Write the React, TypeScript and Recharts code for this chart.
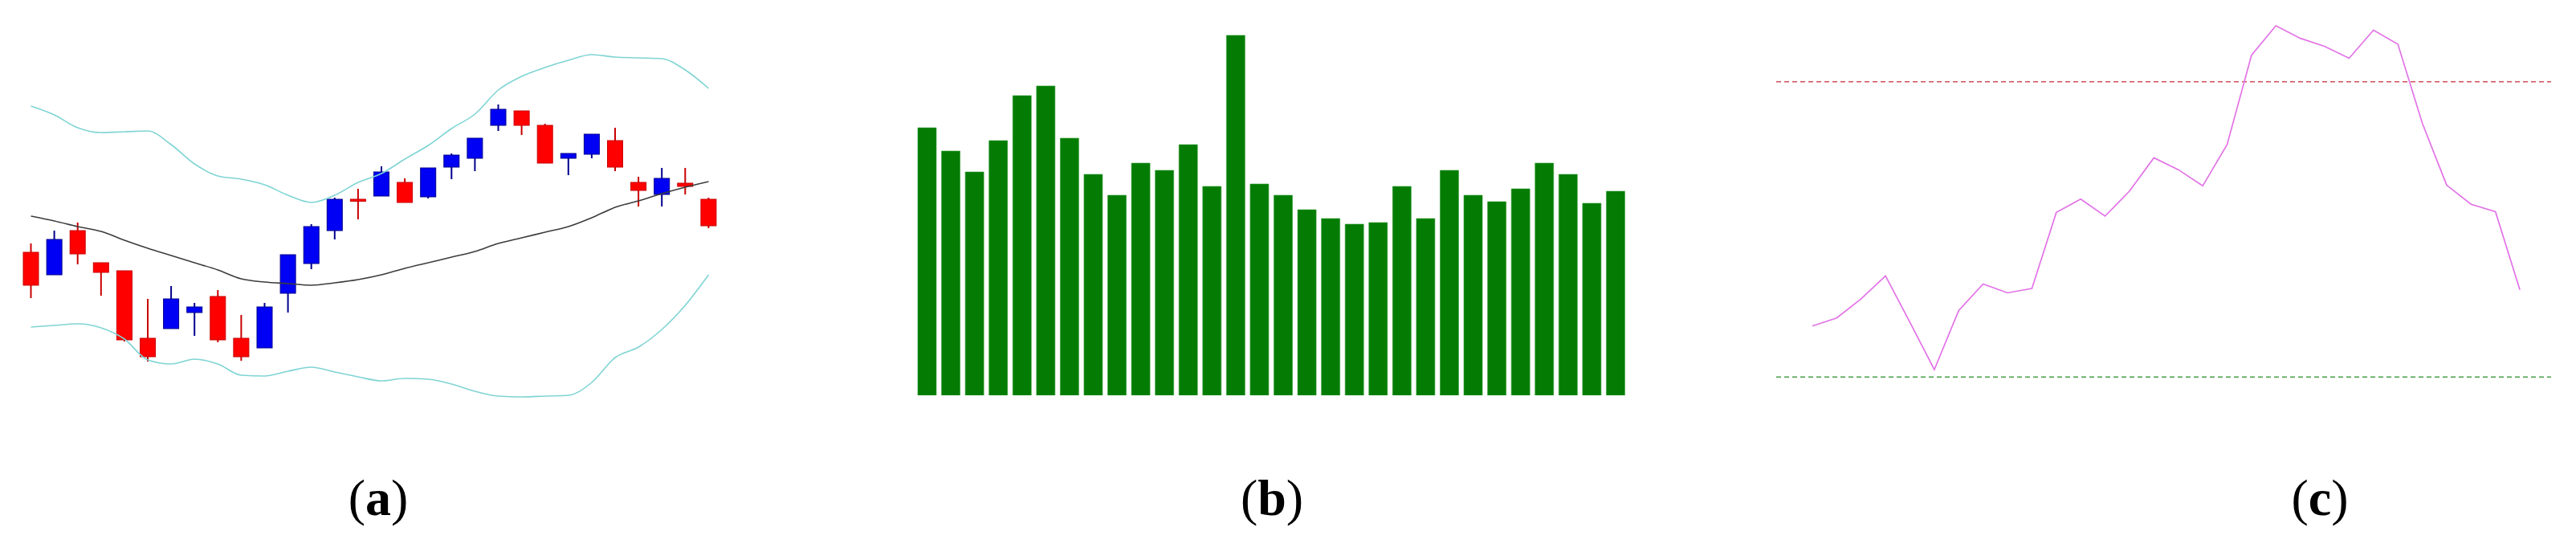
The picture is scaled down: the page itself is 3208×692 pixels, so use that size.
import {
  Bar,
  BarChart,
  ComposedChart,
  Line,
  LineChart,
  ReferenceLine,
  XAxis,
  YAxis,
} from 'recharts';

// (a) candles: open / close / high / low, plus Bollinger bands
const OPEN = [24.6, 21.8, 27.3, 23.3, 22.3, 13.9, 15.1, 17.1, 19.1, 13.9, 12.7, 19.5, 23.2, 27.3, 31.2, 31.6, 33.3, 31.5, 35.2, 36.3, 40.4, 42.2, 40.4, 36.3, 36.8, 38.5, 33.3, 31.8, 33.2, 31.2];
const CLOSE = [20.5, 26.2, 24.4, 22.1, 13.7, 11.6, 18.8, 17.8, 13.7, 11.6, 17.8, 24.3, 27.8, 31.2, 31.0, 34.6, 30.8, 35.1, 36.7, 38.8, 42.4, 40.4, 35.7, 36.9, 39.3, 35.2, 32.3, 33.8, 32.8, 27.9];
const HIGH = [25.7, 27.3, 28.3, 23.3, 22.3, 18.8, 20.4, 18.3, 19.9, 16.8, 18.3, 24.3, 28.1, 31.4, 32.5, 35.3, 33.8, 35.1, 36.9, 38.8, 43.0, 42.2, 40.6, 36.9, 39.3, 40.1, 34.0, 35.1, 35.1, 31.4];
const LOW = [18.9, 21.8, 23.1, 19.2, 13.5, 11.0, 15.1, 14.2, 13.4, 11.1, 12.7, 17.1, 22.5, 26.2, 28.7, 31.6, 30.8, 31.3, 33.7, 34.7, 39.7, 39.2, 35.7, 34.2, 36.3, 34.7, 30.3, 30.3, 31.8, 27.6];
const MID = [29.1, 28.5, 27.8, 27.2, 26.1, 25.1, 24.2, 23.3, 22.4, 21.3, 20.9, 20.7, 20.5, 20.8, 21.2, 21.8, 22.6, 23.3, 24.0, 24.7, 25.7, 26.4, 27.1, 27.8, 28.9, 30.2, 31.0, 31.9, 32.7, 33.4];
const UPPER = [42.8, 41.7, 40.1, 39.5, 39.6, 39.7, 38.0, 35.6, 34.1, 33.7, 33.0, 31.7, 30.8, 31.7, 33.3, 34.4, 36.2, 37.9, 40.0, 41.8, 44.8, 46.5, 47.6, 48.5, 49.2, 48.9, 48.8, 48.7, 47.3, 45.0];
const LOWER = [15.3, 15.5, 15.7, 15.2, 13.8, 11.2, 10.7, 11.3, 10.7, 9.3, 9.2, 9.8, 10.3, 9.7, 9.1, 8.6, 8.9, 8.8, 8.2, 7.3, 6.7, 6.6, 6.7, 6.8, 8.4, 11.5, 12.8, 15.0, 18.0, 21.8];

// (b) volume
const VOLUME = [333, 304, 278, 317, 373, 385, 320, 275, 249, 289, 280, 312, 260, 448, 263, 249, 231, 220, 213, 215, 260, 220, 280, 249, 241, 257, 289, 275, 239, 254];

// (c) oscillator with 70 / 30 levels
const RSI = [36.9, 38.0, 40.6, 43.7, 37.4, 31.0, 39.0, 42.6, 41.4, 42.0, 52.3, 54.1, 51.8, 55.2, 59.7, 58.1, 55.9, 61.5, 73.6, 77.6, 75.9, 74.8, 73.2, 77.0, 75.1, 64.4, 56.0, 53.4, 52.4, 41.8];
const OVERBOUGHT = 70;
const OVERSOLD = 30;

const LABELS = ['a', 'b', 'c'];

const candles = OPEN.map((o, i) => ({
  idx: i,
  open: o,
  close: CLOSE[i],
  high: HIGH[i],
  low: LOW[i],
  range: [LOW[i], HIGH[i]],
  mid: MID[i],
  upper: UPPER[i],
  lower: LOWER[i],
}));
const volumes = VOLUME.map((v, i) => ({ idx: i, v }));
const rsi = RSI.map((v, i) => ({ idx: i, v }));

function Candle(props: any) {
  const { x, y, width, height, payload } = props;
  const { open, close, high, low } = payload;
  const up = close >= open;
  const k = height / (high - low || 1);
  const top = y + (high - Math.max(open, close)) * k;
  const bodyH = Math.max((Math.max(open, close) - Math.min(open, close)) * k, 2.5);
  const cx = x + width / 2;
  const fill = up ? '#0000f5' : '#ff0000';
  const edge = up ? '#00008c' : '#c80000';
  return (
    <g>
      <line x1={cx} x2={cx} y1={y} y2={y + height} stroke={edge} strokeWidth={2} />
      <rect x={x} y={top} width={width} height={bodyH} fill={fill} stroke={edge} strokeWidth={1} />
    </g>
  );
}

const labelStyle = (left: number): React.CSSProperties => ({
  position: 'absolute',
  left: left - 100,
  top: 588,
  width: 200,
  textAlign: 'center',
  fontFamily: '"Liberation Serif", serif',
  fontSize: 64,
  lineHeight: 1,
  color: '#000',
});

export default function App() {
  return (
    <div
      style={{
        position: 'absolute',
        left: 0,
        top: 0,
        width: 3208,
        height: 692,
        background: '#fff',
        overflow: 'hidden',
      }}
    >
      <div style={{ position: 'absolute', left: 0, top: 0 }}>
        <ComposedChart width={898} height={560} data={candles} margin={{ top: 0, right: 1, bottom: 0, left: 24 }}>
          <XAxis dataKey="idx" hide />
          <YAxis type="number" domain={[0, 56]} allowDataOverflow hide />
          <Line type="monotone" dataKey="upper" stroke="#7fd4d4" strokeWidth={1.6} dot={false} isAnimationActive={false} />
          <Line type="monotone" dataKey="lower" stroke="#7fd4d4" strokeWidth={1.6} dot={false} isAnimationActive={false} />
          <Line type="monotone" dataKey="mid" stroke="#3c3c3c" strokeWidth={1.6} dot={false} isAnimationActive={false} />
          <Bar dataKey="range" barSize={19} shape={<Candle />} isAnimationActive={false} />
        </ComposedChart>
      </div>

      <div style={{ position: 'absolute', left: 1140, top: 0 }}>
        <BarChart width={887} height={492} data={volumes} margin={{ top: 0, right: 0, bottom: 0, left: 0 }}>
          <XAxis dataKey="idx" hide />
          <YAxis type="number" domain={[0, 492]} allowDataOverflow hide />
          <Bar dataKey="v" barSize={23} fill="#047c04" stroke="#2f9a2f" strokeWidth={0.6} isAnimationActive={false} />
        </BarChart>
      </div>

      <div style={{ position: 'absolute', left: 2212, top: 0 }}>
        <LineChart width={965} height={561} data={rsi} margin={{ top: 10, right: 0, bottom: 0, left: 0 }}>
          <XAxis dataKey="idx" type="number" domain={[-1.48, 30.28]} allowDataOverflow hide />
          <YAxis type="number" domain={[20, 80]} allowDataOverflow hide />
          <ReferenceLine y={OVERBOUGHT} stroke="#d2505a" strokeWidth={1.5} strokeDasharray="6 4" />
          <ReferenceLine y={OVERSOLD} stroke="#4a9e4a" strokeWidth={1.5} strokeDasharray="6 4" />
          <Line type="linear" dataKey="v" stroke="#e273e6" strokeWidth={1.7} dot={false} isAnimationActive={false} />
        </LineChart>
      </div>

      {LABELS.map((l, i) => (
        <div key={l} style={labelStyle([471, 1584, 2889][i])}>
          (<b>{l}</b>)
        </div>
      ))}
    </div>
  );
}
